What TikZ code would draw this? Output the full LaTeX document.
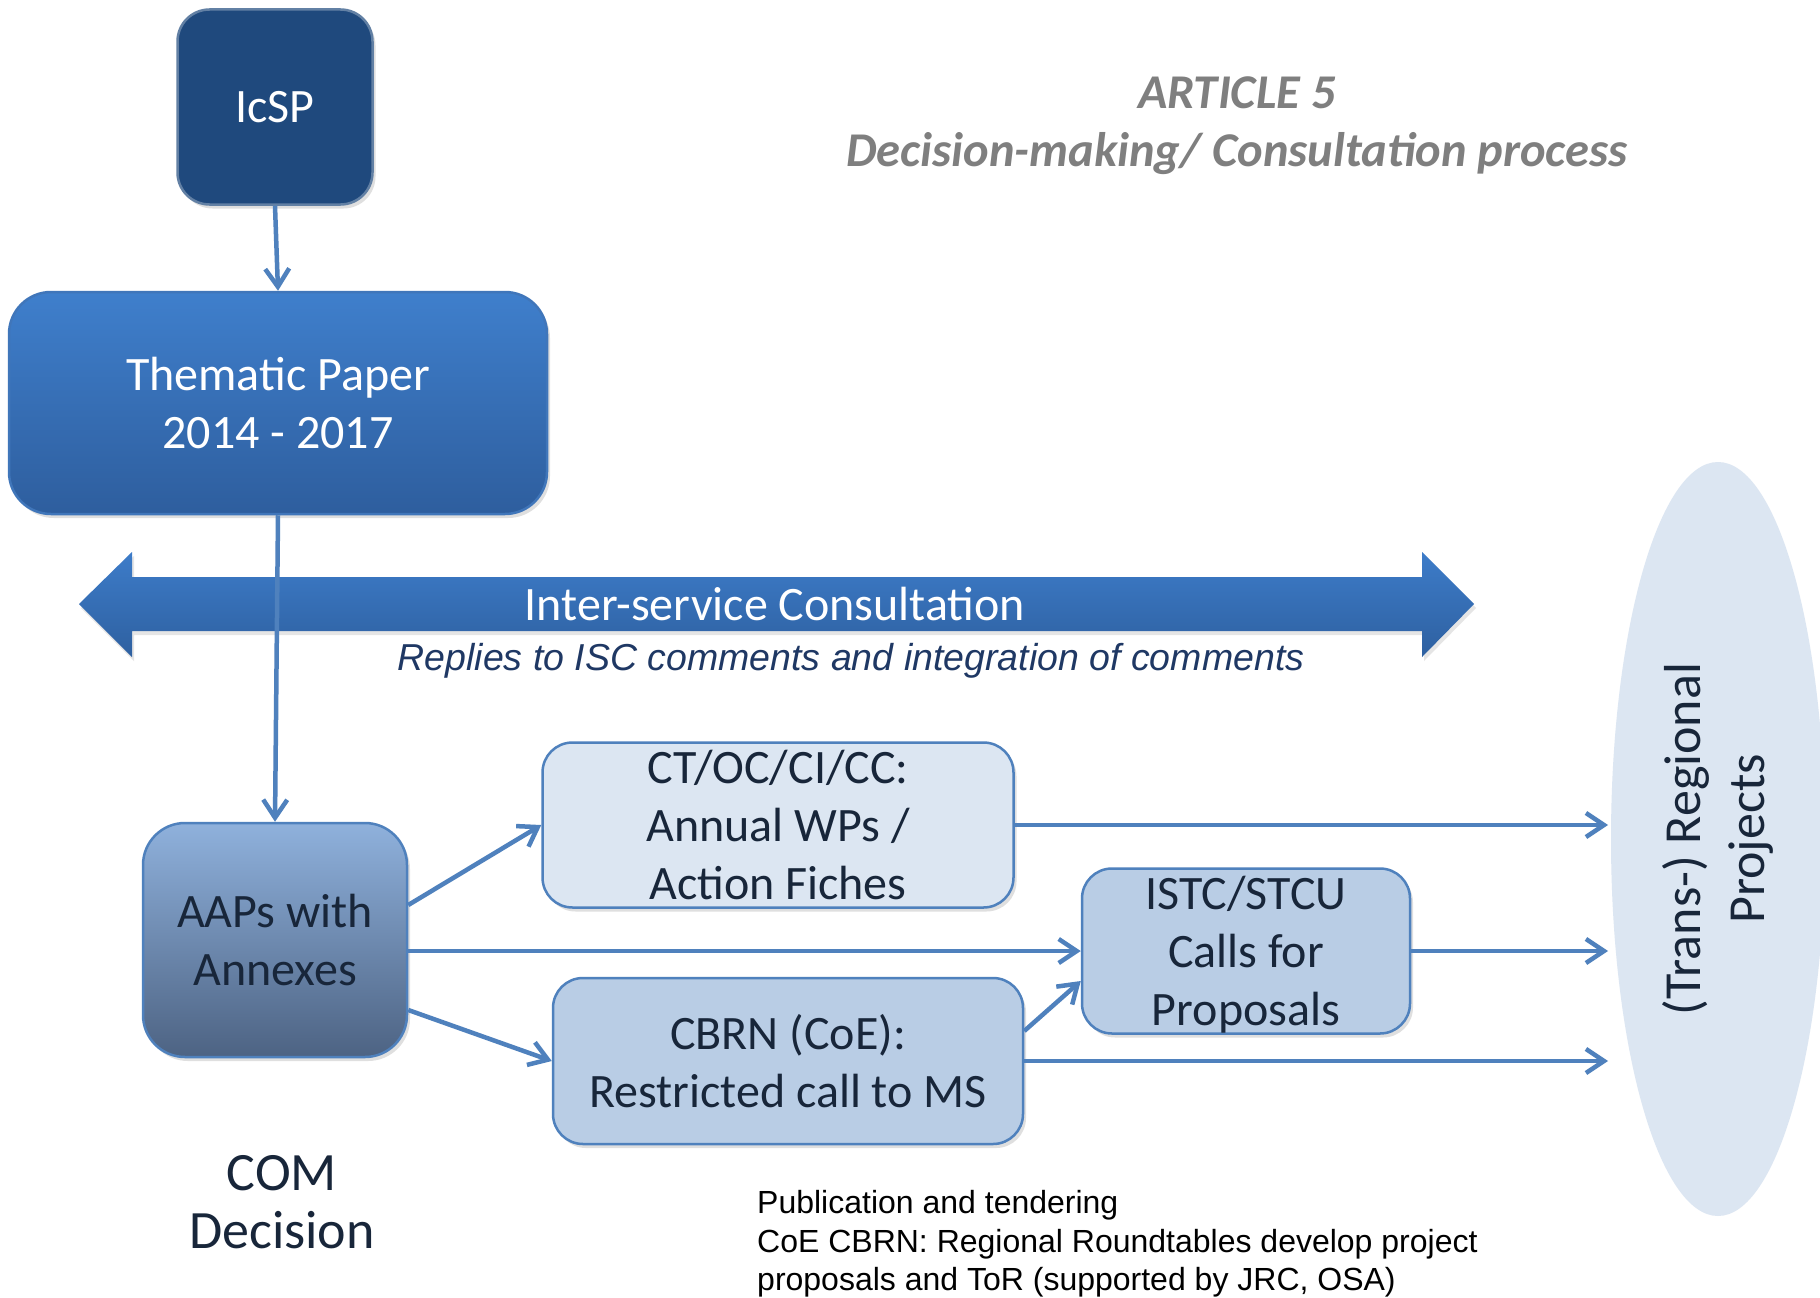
\documentclass[tikz,border=0pt]{standalone}
\usepackage{fontspec}
\setmainfont{Carlito}
\newfontfamily\arialfont{Liberation Sans}
\usetikzlibrary{shapes.geometric,arrows.meta,shadows}
\definecolor{icspblue}{HTML}{1F497D}
\definecolor{boxline}{HTML}{4F81BD}
\definecolor{linkblue}{HTML}{4F81BD}
\definecolor{paleblue}{HTML}{DCE6F2}
\definecolor{midblue}{HTML}{B9CDE5}
\definecolor{boxtext}{HTML}{18263A}
\definecolor{navytext}{HTML}{1F3864}
\definecolor{titlegray}{HTML}{7F7F7F}
\tikzset{
  box/.style={draw=boxline, line width=2.5pt, rounded corners=30pt, inner sep=0pt, align=center,
    font=\fontsize{48}{58}\selectfont, text=boxtext,
    drop shadow={opacity=0.25, shadow xshift=3pt, shadow yshift=-4pt}},
  flowline/.style={draw=linkblue, line width=4.5pt, -{Straight Barb[length=18pt,width=24pt]}}
}
\newcommand{\flow}[2]{\draw[flowline] (#1) -- (#2);}
\begin{document}
\begin{tikzpicture}[x=1pt,y=-1pt]
    \useasboundingbox[fill=white] (0,0) rectangle (1820,1298);
    % top part
    \node[box, fill=icspblue, draw=icspblue!70!white, text=white, minimum width=195pt, minimum height=195pt, rounded corners=32pt] (icsp) at (275,107) {IcSP};
    \node[box, top color={rgb,255:red,63;green,127;blue,204}, bottom color={rgb,255:red,46;green,94;blue,158}, draw={rgb,255:red,64;green,118;blue,186}, text=white, minimum width=538pt, minimum height=222pt, rounded corners=42pt] (thematic) at (278,403) {Thematic Paper\\2014 - 2017};
    \node[font=\bfseries\itshape\fontsize{48.5}{58}\selectfont, text=titlegray, align=center] (title) at (1237,126) {ARTICLE 5\\Decision-making/ Consultation process};
    % consultation arrow
    \shade[top color={rgb,255:red,61;green,124;blue,201}, bottom color={rgb,255:red,46;green,96;blue,160}, drop shadow={opacity=0.2, shadow xshift=2pt, shadow yshift=-4pt}]
      (79,604) -- (132,552) -- (132,577) -- (1422,577) -- (1422,552) -- (1474,604) -- (1422,657) -- (1422,631) -- (132,631) -- (132,657) -- cycle;
    \node[font=\fontsize{48}{58}\selectfont, text=white, anchor=base] (isc) at (775,620) {Inter-service Consultation};
    \node[font=\arialfont\itshape\fontsize{37.5}{45}\selectfont, text=navytext, anchor=base] (replies) at (851,670) {Replies to ISC comments and integration of comments};
    % lower part
    \node[box, top color={rgb,255:red,143;green,177;blue,220}, bottom color={rgb,255:red,77;green,99;blue,131}, minimum width=264pt, minimum height=234pt, rounded corners=42pt] (aaps) at (275,940) {AAPs with\\Annexes};
    \node[box, fill=paleblue, minimum width=471pt, minimum height=165pt] (ct) at (778,825) {CT/OC/CI/CC:\\Annual WPs /\\Action Fiches};
    \node[box, fill=midblue, minimum width=470pt, minimum height=166pt] (cbrn) at (788,1061) {CBRN (CoE):\\Restricted call to MS};
    \node[box, fill=midblue, minimum width=328pt, minimum height=165pt] (istc) at (1246,951) {ISTC/STCU\\Calls for\\Pro\smash{p}osals};
    \node[ellipse, fill=paleblue, rotate=90, minimum width=754pt, minimum height=214pt, align=center, font=\fontsize{52}{64}\selectfont, text=boxtext] (proj) at (1718,839) {(Trans-) Regional\\Projects};
    \coordinate (rp) at (1608,839);
    \node[font=\fontsize{54}{58}\selectfont, text=boxtext, align=center] (com) at (282,1202) {COM\\Decision};
    \node[font=\arialfont\fontsize{32}{38.5}\selectfont, align=left, anchor=west, inner sep=0pt] (notes) at (757,1244) {Publication and tendering\\CoE CBRN: Regional Roundtables develop project\\proposals and ToR (supported by JRC, OSA)};
    % connectors
    \flow{icsp.south}{thematic.north}
    \flow{thematic.south}{aaps.north}
    \flow{[yshift=35pt]aaps.east}{ct.west}
    \flow{[yshift=-70pt]aaps.east}{cbrn.west}
    \flow{istc.west -| aaps.east}{istc.west}
    \flow{[yshift=30pt]cbrn.east}{[yshift=-30pt]istc.west}
    \flow{ct.east}{ct.east -| rp}
    \flow{istc.east}{istc.east -| rp}
    \flow{cbrn.east}{cbrn.east -| rp}
\end{tikzpicture}
\end{document}
